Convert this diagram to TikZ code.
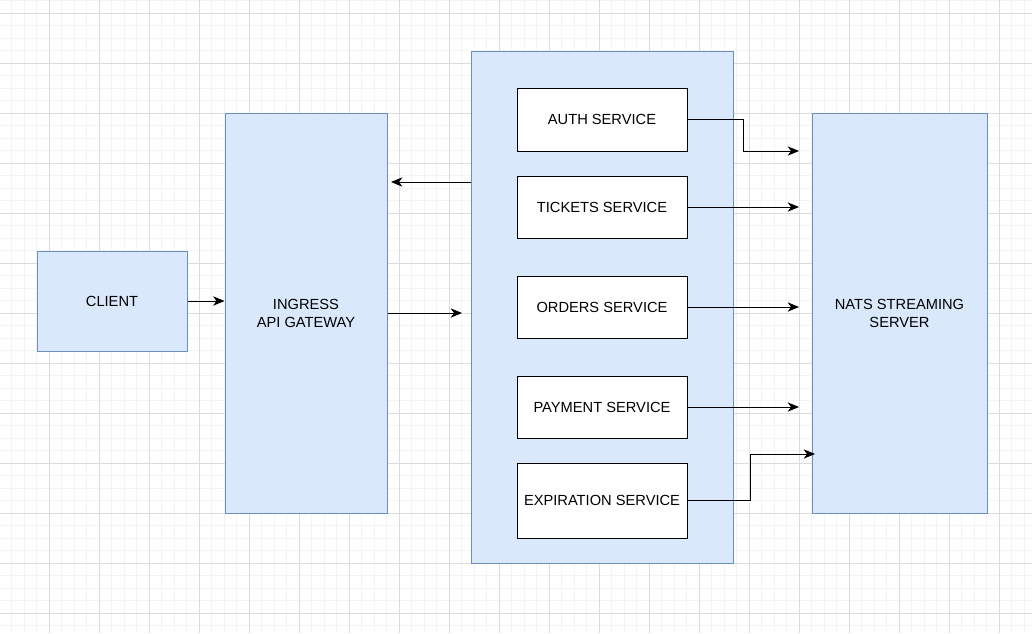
\documentclass[tikz,border=0pt]{standalone}
\usepackage{fontspec}
\setmainfont{Liberation Sans}
\usetikzlibrary{arrows.meta}
\definecolor{gridminor}{HTML}{F4F4F4}
\definecolor{gridmajor}{HTML}{DCDCDC}
\definecolor{boxfill}{HTML}{DAE8FC}
\definecolor{boxline}{HTML}{6C8EBF}
\tikzset{
  bluebox/.style={draw=boxline, fill=boxfill, line width=0.75pt, inner sep=0pt, align=center, font=\fontsize{11}{13.5}\selectfont},
  svcbox/.style={draw=black, fill=white, line width=0.75pt, inner sep=0pt, minimum width=127.5pt, minimum height=46.5pt, font=\fontsize{11}{13.5}\selectfont},
  link/.style={draw=black, line width=0.75pt, -{Stealth[length=8.5pt,width=7pt,inset=2.5pt]}}
}
\begin{document}
\begin{tikzpicture}[x=0.75pt,y=0.75pt,yscale=-1,xscale=1]
%set diagram size 1032 x 633
\useasboundingbox (0,0) rectangle (1032,633);
\fill[white] (0,0) rectangle (1032,633);

%Grid: minor and major lines
\foreach \i in {0,...,83} {\draw[gridminor, line width=0.75pt] (11.8+12.5*\i,0) -- (11.8+12.5*\i,633);}
\foreach \i in {0,...,51} {\draw[gridminor, line width=0.75pt] (0,0.8+12.5*\i) -- (1032,0.8+12.5*\i);}
\foreach \i in {0,...,20} {\draw[gridmajor, line width=0.75pt] (49.3+50*\i,0) -- (49.3+50*\i,633);}
\foreach \i in {0,...,12} {\draw[gridmajor, line width=0.75pt] (0,13.3+50*\i) -- (1032,13.3+50*\i);}

%Shape: Rectangle client
\node[bluebox, minimum width=112.5pt, minimum height=75pt] (client) at (112,301) {CLIENT};
%Shape: Rectangle ingress
\node[bluebox, minimum width=121.5pt, minimum height=300pt] (ingress) at (306,313) {INGRESS\\API GATEWAY};
%Shape: Rectangle services
\node[bluebox, minimum width=196.5pt, minimum height=384pt] (svc) at (602,307) {};
%Shape: Rectangle nats
\node[bluebox, minimum width=131.25pt, minimum height=300pt] (nats) at (899.5,313) {NATS STREAMING\\SERVER};

%Services
\node[svcbox, minimum height=47.25pt] (auth) at (602,119.5) {AUTH SERVICE};
\node[svcbox] (tickets) at (602,207) {TICKETS SERVICE};
\node[svcbox] (orders) at (602,307) {ORDERS SERVICE};
\node[svcbox] (payment) at (602,407) {PAYMENT SERVICE};
\node[svcbox, minimum height=56.25pt] (expiration) at (602,500.5) {EXPIRATION SERVICE};

%Connectors
\coordinate (gwin) at (391,182);
\coordinate (svcin) at (462,313);
\coordinate (nauth) at (799,151);
\coordinate (nexp) at (815,454);

\draw[link] (client.east) -- (client.east -| ingress.west);
\draw[link] (svc.west |- gwin) -- (gwin);
\draw[link] (ingress.east) -- (svcin);
\draw[link] (auth.east) -| (743,151) -- (nauth);
\draw[link] (tickets.east) -- (tickets.east -| nauth);
\draw[link] (orders.east) -- (orders.east -| nauth);
\draw[link] (payment.east) -- (payment.east -| nauth);
\draw[link] (expiration.east) -| (750,454) -- (nexp);

\end{tikzpicture}
\end{document}
